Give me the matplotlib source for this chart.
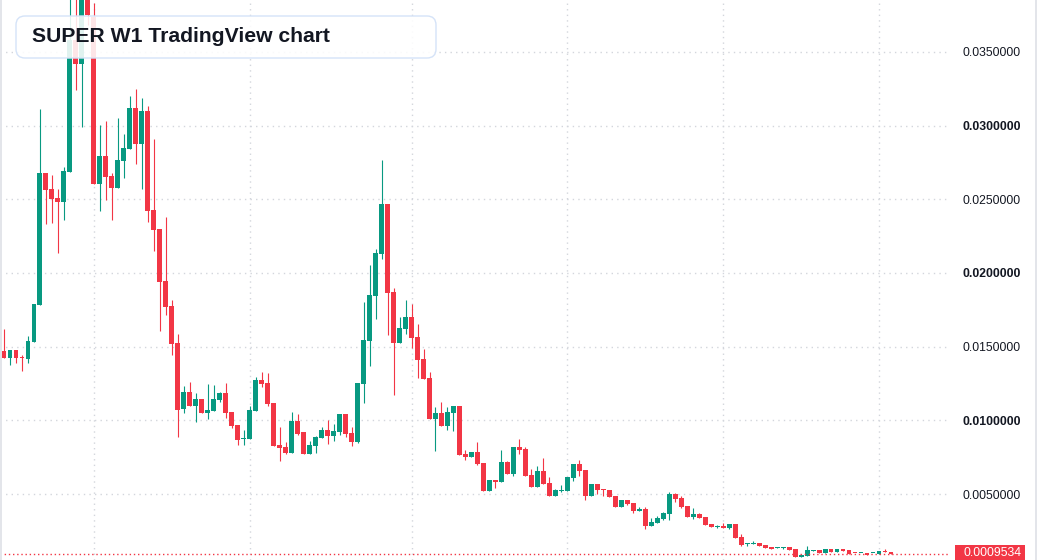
import numpy as np
import matplotlib.pyplot as plt
from matplotlib.patches import FancyBboxPatch, Rectangle
from matplotlib.transforms import IdentityTransform

plt.rcParams['font.family'] = ['Liberation Sans', 'DejaVu Sans']

# SUPER weekly candles, prices in units of 0.0001
opens = [147.3, 142.5, 147.7, 143.2, 141.6, 153.4, 178.5, 267.9, 257.0, 250.9,
         248.4, 268.7, 358.1, 342.0, 389.4, 373.7, 260.6, 279.4, 265.8, 257.9,
         276.0, 284.4, 312.0, 287.7, 309.9, 242.7, 229.9, 194.6, 177.6, 152.7,
         107.5, 119.2, 109.9, 114.5, 105.2, 106.5, 114.0, 118.5, 105.7, 96.8,
         87.5, 87.5, 106.5, 127.4, 125.3, 111.8, 83.3, 81.9, 78.0, 99.5,
         92.1, 77.4, 82.8, 88.2, 93.4, 89.6, 92.3, 104.3, 91.4, 85.5,
         124.9, 154.0, 184.6, 213.1, 246.8, 187.1, 152.7, 162.2, 170.1, 156.6,
         141.6, 128.7, 101.1, 105.0, 96.4, 105.2, 109.7, 77.1, 75.3, 78.5,
         71.0, 52.2, 59.5, 58.3, 71.7, 63.8, 81.9, 80.5, 62.9, 55.0,
         65.6, 57.5, 48.8, 52.0, 52.2, 61.1, 70.4, 66.3, 48.8, 56.8,
         53.6, 52.7, 48.6, 41.4, 45.9, 43.9, 38.7, 39.8, 28.5, 30.5,
         33.0, 36.6, 50.2, 47.3, 41.9, 34.6, 36.4, 34.4, 29.6, 27.8,
         28.5, 27.1, 29.6, 20.8, 16.3, 16.3, 16.7, 15.4, 14.0, 13.6,
         13.6, 14.0, 12.7, 7.4, 8.1, 11.5, 12.0, 10.2, 12.7, 10.8,
         12.7, 12.0, 10.2, 9.8, 10.2, 9.8, 9.5, 11.5, 10.8]
highs = [162.0, 147.7, 147.7, 144.3, 157.2, 179.0, 311.3, 267.9, 266.5, 257.0,
         271.9, 395.5, 388.7, 398.9, 392.1, 383.4, 300.2, 303.2, 267.7, 305.2,
         294.3, 320.1, 324.9, 318.8, 313.3, 290.9, 229.9, 238.0, 181.7, 158.6,
         123.3, 126.0, 118.5, 114.5, 124.7, 124.0, 119.2, 125.3, 105.7, 96.8,
         93.4, 109.7, 129.4, 132.8, 132.1, 111.8, 95.5, 85.3, 105.7, 104.3,
         92.1, 86.0, 89.6, 95.7, 100.2, 97.7, 104.3, 104.3, 95.7, 125.3,
         180.3, 205.4, 216.3, 276.7, 246.8, 189.8, 170.3, 181.7, 179.0, 165.4,
         148.4, 132.8, 109.0, 112.4, 109.0, 109.7, 109.7, 80.1, 78.5, 85.3,
         71.0, 59.5, 59.5, 79.9, 72.4, 81.9, 87.3, 81.9, 67.0, 69.0,
         74.4, 61.5, 53.4, 56.1, 61.5, 70.4, 73.1, 66.3, 56.8, 56.8,
         53.6, 52.7, 48.6, 45.9, 45.9, 43.9, 41.2, 41.2, 33.7, 35.1,
         37.8, 51.6, 50.9, 48.6, 41.9, 40.5, 37.1, 34.4, 29.6, 29.2,
         30.5, 29.6, 29.6, 23.1, 16.7, 18.1, 16.7, 15.4, 14.0, 14.0,
         14.0, 14.0, 12.7, 9.5, 14.7, 12.0, 12.0, 12.7, 12.7, 12.7,
         12.7, 12.0, 10.2, 10.0, 10.2, 10.2, 11.5, 12.9, 10.8]
lows = [142.5, 137.6, 138.9, 133.7, 139.1, 153.4, 178.5, 233.2, 234.1, 213.8,
        236.0, 268.7, 324.2, 299.3, 368.3, 260.6, 242.3, 249.5, 236.0, 257.9,
        264.7, 284.4, 274.0, 257.0, 234.6, 215.1, 160.8, 171.7, 144.5, 88.9,
        105.2, 109.9, 99.1, 105.2, 100.7, 106.5, 112.6, 101.8, 95.0, 83.5,
        83.5, 87.5, 106.5, 122.8, 109.9, 82.8, 72.6, 77.4, 78.0, 90.2,
        77.4, 77.4, 78.0, 88.2, 84.1, 86.2, 90.2, 88.9, 82.8, 84.8,
        112.0, 137.1, 169.0, 209.7, 158.1, 117.4, 152.7, 158.8, 149.3, 128.9,
        128.3, 101.1, 79.4, 96.4, 93.6, 93.0, 76.7, 73.3, 75.3, 69.9,
        52.2, 52.2, 54.3, 58.3, 63.8, 62.4, 77.4, 62.4, 55.0, 55.0,
        57.0, 48.8, 48.8, 51.4, 52.2, 59.0, 62.2, 45.9, 48.8, 50.2,
        48.8, 48.2, 41.4, 41.4, 42.7, 37.3, 38.7, 26.4, 28.5, 30.5,
        32.6, 32.6, 44.8, 40.5, 34.6, 33.2, 33.9, 29.2, 27.8, 27.1,
        27.1, 26.4, 20.3, 14.9, 14.5, 15.9, 14.9, 13.6, 12.9, 13.6,
        12.9, 12.2, 7.4, 7.4, 8.1, 11.5, 10.2, 10.2, 10.8, 10.8,
        11.5, 9.5, 9.8, 9.8, 8.8, 9.8, 9.5, 10.8, 9.534]
closes = [142.5, 147.7, 142.5, 142.5, 153.8, 179.0, 267.9, 256.3, 250.2, 248.4,
          269.0, 358.1, 342.0, 390.7, 375.1, 260.6, 279.4, 265.4, 257.9, 276.7,
          284.8, 312.0, 287.7, 309.9, 242.3, 229.4, 194.1, 177.1, 152.0, 107.2,
          119.2, 109.9, 114.5, 105.2, 107.0, 114.5, 118.5, 105.2, 96.4, 86.9,
          88.2, 107.0, 127.4, 124.9, 111.3, 82.8, 81.4, 78.0, 99.5, 90.9,
          77.4, 83.5, 88.9, 93.4, 89.6, 92.8, 104.3, 90.9, 85.5, 125.3,
          154.5, 185.1, 213.6, 246.8, 186.6, 152.7, 162.7, 170.1, 156.1, 141.1,
          128.3, 101.1, 105.0, 96.4, 105.7, 109.7, 76.7, 75.3, 78.5, 70.6,
          52.2, 59.5, 58.3, 71.7, 63.8, 81.9, 80.1, 62.4, 55.0, 65.6,
          57.0, 48.8, 52.7, 52.7, 61.5, 70.4, 65.6, 48.8, 56.8, 52.9,
          52.9, 48.2, 41.4, 45.9, 43.4, 38.7, 39.8, 28.5, 31.0, 33.7,
          37.1, 50.2, 46.8, 41.2, 34.6, 36.4, 33.9, 29.2, 27.8, 28.5,
          27.1, 29.6, 20.3, 15.6, 16.7, 16.9, 14.9, 13.6, 12.9, 14.0,
          14.0, 12.2, 7.4, 8.8, 12.0, 12.0, 10.2, 12.7, 10.8, 12.7,
          11.5, 9.5, 9.8, 10.0, 8.8, 10.2, 11.5, 10.8, 9.534]

last_price = 0.0009534
last_label = '0.0009534'
price_levels = [0.005, 0.010, 0.015, 0.020, 0.025, 0.030, 0.035]
price_labels = ['0.0050000', '0.0100000', '0.0150000', '0.0200000',
                '0.0250000', '0.0300000', '0.0350000']
bold_labels = ['0.0100000', '0.0200000', '0.0300000']
period_starts = [15, 41, 68, 94, 120, 146]   # candle index of vertical grid lines

UP = '#089981'
DOWN = '#F23645'
TXT = '#131722'
GRID = '#d3d6dc'

o = np.array(opens) * 1e-4
h = np.array(highs) * 1e-4
l = np.array(lows) * 1e-4
c = np.array(closes) * 1e-4
idx = np.arange(len(o))
cols = np.where(c >= o, UP, DOWN)

W, H = 1037, 560
fig = plt.figure(figsize=(W / 100, H / 100), dpi=100)
ax = fig.add_axes([0, 0, 950 / W, 1])
ax.set_xlim(-0.667, 157.85)
ax.set_ylim(0.000521, 0.038528)
for s in ax.spines.values():
    s.set_visible(False)

# grid
ax.set_yticks(price_levels)
ax.set_yticklabels(price_labels)
ax.set_xticks(period_starts)
ax.set_xticklabels([])
ax.grid(True, color=GRID, linestyle=(0, (1, 3)), linewidth=1)
ax.set_axisbelow(True)
ax.yaxis.tick_right()
ax.tick_params(axis='both', length=0)
ax.tick_params(axis='y', pad=9, labelsize=8.8, labelcolor=TXT)
for t in ax.get_yticklabels():
    if t.get_text() in bold_labels:
        t.set_fontweight('bold')

# candles
px = (0.038528 - 0.000521) / H
ax.vlines(idx, l, h, colors=cols, linewidth=0.8, zorder=2)
body_lo = np.minimum(o, c)
body_h = np.maximum(np.abs(c - o), px)
ax.bar(idx, body_h, bottom=body_lo, width=0.82, color=cols, linewidth=0, zorder=3)

# last price line + label
ax.axhline(last_price, color=DOWN, linestyle=(0, (1, 2)), linewidth=1, zorder=4)
fig.add_artist(Rectangle((955, -2), 70, 17, transform=IdentityTransform(),
                         facecolor=DOWN, edgecolor='none'))
fig.text(963 / W, 1 - 553 / H, last_label, ha='left', va='center',
         fontsize=8.8, color='white')

# frame edges
fig.add_artist(Rectangle((0, 0), 2, H, transform=IdentityTransform(),
                         facecolor='#e3e5ea', edgecolor='none'))
fig.add_artist(Rectangle((1035, 0), 2, H, transform=IdentityTransform(),
                         facecolor='#e3e5ea', edgecolor='none'))

# title box
fig.add_artist(FancyBboxPatch((16, H - 58), 420, 42,
                              boxstyle='round,pad=0,rounding_size=9',
                              transform=IdentityTransform(),
                              facecolor=(1, 1, 1, 0.88), edgecolor='#d5e3f8', linewidth=1))
fig.text(32 / W, 1 - 37 / H, 'SUPER W1 TradingView chart', fontsize=15.2,
         fontweight='bold', color=TXT, va='center', ha='left')

fig.savefig('out.png', dpi=100)
